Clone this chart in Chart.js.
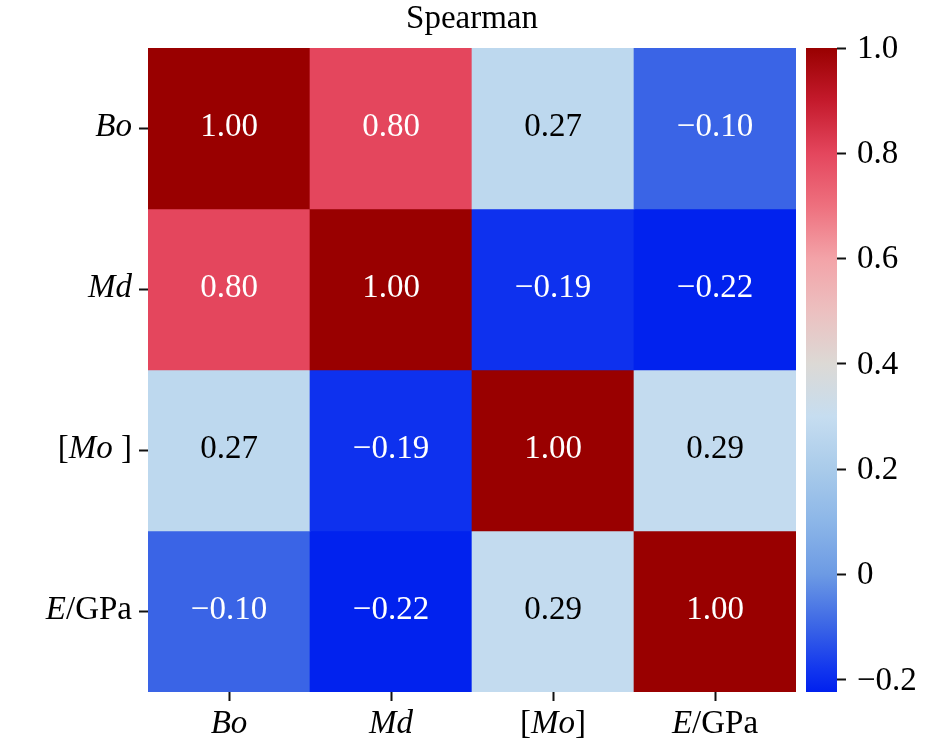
<!DOCTYPE html>
<html>
<head>
<meta charset="utf-8">
<script src="https://cdn.jsdelivr.net/npm/chart.js@4.4.1/dist/chart.umd.min.js"></script>
<style>
  html, body { margin: 0; padding: 0; background: #fff; }
  #wrap { position: relative; width: 945px; height: 743px; }
  #heatBox { position: absolute; left: 0; top: 0; width: 945px; height: 743px; }
  #cbBox { position: absolute; left: 790px; top: 0; width: 155px; height: 743px; }
</style>
</head>
<body>
<div id="wrap">
  <div id="heatBox"><canvas id="heat"></canvas></div>
  <div id="cbBox"><canvas id="cbar"></canvas></div>
</div>
<script>
/* ================= DATA ================= */
const title = "Spearman";
// *text* = italic part
const xLabels = ["*Bo*", "*Md*", "[*Mo*]", "*E*/GPa"];
const yLabels = ["*Bo*", "*Md*", "[*Mo* ]", "*E*/GPa"];

const rowBo = [1.00, 0.80, 0.27, -0.10];
const rowMd = [0.80, 1.00, -0.19, -0.22];
const rowMo = [0.27, -0.19, 1.00, 0.29];
const rowE  = [-0.10, -0.22, 0.29, 1.00];
const rows = [rowBo, rowMd, rowMo, rowE];

const cbTicks = [-0.2, 0, 0.2, 0.4, 0.6, 0.8, 1.0];
const cbMin = -0.223;
const cbMax = 1.0;

/* ================= COLOUR MAP ================= */
const cmapStops = [
  [-0.223, "#0020ee"],
  [-0.18, "#1236ee"],
  [-0.10, "#3a64e6"],
  [0.0, "#6c9ae4"],
  [0.1, "#8cb6e8"],
  [0.2, "#a9cbea"],
  [0.3, "#c6ddf0"],
  [0.4, "#dcd9d5"],
  [0.5, "#ecc0c0"],
  [0.6, "#f3a3a8"],
  [0.7, "#ee707e"],
  [0.8, "#e4465d"],
  [0.9, "#c41a2c"],
  [1.0, "#990000"]
];

const FONT = "'Liberation Serif', 'DejaVu Serif', serif";
const SIZE = 33;

function hexRgb(h) {
  return [1, 3, 5].map(k => parseInt(h.slice(k, k + 2), 16));
}

function cmapRgb(v) {
  if (v <= cmapStops[0][0]) return hexRgb(cmapStops[0][1]);
  for (let k = 1; k < cmapStops.length; k++) {
    const [v1, c1] = cmapStops[k];
    if (v <= v1) {
      const [v0, c0] = cmapStops[k - 1];
      const t = (v - v0) / (v1 - v0);
      const a = hexRgb(c0), b = hexRgb(c1);
      return a.map((x, n) => Math.round(x + (b[n] - x) * t));
    }
  }
  return hexRgb(cmapStops[cmapStops.length - 1][1]);
}

function cmap(v) {
  const c = cmapRgb(v);
  return `rgb(${c[0]},${c[1]},${c[2]})`;
}

function isDark(v) {
  const lin = cmapRgb(v).map(x => {
    x /= 255;
    return x <= 0.03928 ? x / 12.92 : Math.pow((x + 0.055) / 1.055, 2.4);
  });
  return 0.2126 * lin[0] + 0.7152 * lin[1] + 0.0722 * lin[2] < 0.408;
}

function fmt(v, d) {
  return (v < 0 ? "\u2212" : "") + Math.abs(v).toFixed(d);
}

// draw "a*b*c" with italic parts
function drawRich(ctx, markup, x, y, align) {
  const parts = markup.split("*").map((t, k) => ({ t, it: k % 2 === 1 })).filter(p => p.t);
  const font = it => (it ? "italic " : "") + SIZE + "px " + FONT;
  let w = 0;
  parts.forEach(p => { ctx.font = font(p.it); p.w = ctx.measureText(p.t).width; w += p.w; });
  let cx = align === "right" ? x - w : align === "center" ? x - w / 2 : x;
  ctx.textAlign = "left";
  parts.forEach(p => { ctx.font = font(p.it); ctx.fillText(p.t, cx, y); cx += p.w; });
}

/* ================= HEATMAP ================= */
const heatText = {
  id: "heatText",
  afterDatasetsDraw(chart) {
    const ctx = chart.ctx;
    ctx.save();
    ctx.font = SIZE + "px " + FONT;
    ctx.textAlign = "center";
    ctx.textBaseline = "alphabetic";
    chart.data.datasets.forEach((ds, i) => {
      chart.getDatasetMeta(i).data.forEach((bar, j) => {
        const v = ds.values[j];
        const p = bar.getProps(["x", "y", "base"], true);
        const cy = (p.y + p.base) / 2;
        ctx.fillStyle = isDark(v) ? "#ffffff" : "#000000";
        ctx.fillText(fmt(v, 2), p.x, cy + 7);
      });
    });
    ctx.restore();
  },
  afterDraw(chart) {
    const ctx = chart.ctx;
    const a = chart.chartArea;
    const xs = chart.scales.x, ys = chart.scales.y;
    ctx.save();
    ctx.fillStyle = "#000";
    ctx.textBaseline = "alphabetic";

    // title
    ctx.font = SIZE + "px " + FONT;
    ctx.textAlign = "center";
    ctx.fillText(title, (a.left + a.right) / 2, a.top - 20);

    // x tick labels
    xLabels.forEach((lab, i) => {
      drawRich(ctx, lab, xs.getPixelForTick(i), a.bottom + 41, "center");
    });
    // y tick labels
    yLabels.forEach((lab, i) => {
      drawRich(ctx, lab, a.left - 16, ys.getPixelForTick(i) + 7, "right");
    });
    ctx.restore();
  }
};

const tickGrid = {
  display: true,
  drawOnChartArea: false,
  drawTicks: true,
  tickLength: 9,
  tickWidth: 2,
  tickColor: "#111"
};

new Chart(document.getElementById("heat").getContext("2d"), {
  type: "bar",
  data: {
    labels: xLabels,
    datasets: rows.map((row, i) => ({
      label: yLabels[i],
      data: row.map(() => [i, i + 1]),
      values: row,
      backgroundColor: row.map(v => cmap(v)),
      borderWidth: 0,
      barPercentage: 1,
      categoryPercentage: 1,
      grouped: false
    }))
  },
  options: {
    responsive: true,
    maintainAspectRatio: false,
    animation: false,
    layout: { padding: { left: 0, right: 149, top: 48, bottom: 0 } },
    plugins: {
      legend: { display: false },
      tooltip: { enabled: false },
      title: { display: false }
    },
    scales: {
      x: {
        type: "category",
        offset: true,
        grid: Object.assign({ offset: false }, tickGrid),
        border: { display: false },
        ticks: { display: false },
        afterFit: s => { s.height = 51; }
      },
      y: {
        type: "linear",
        min: 0,
        max: rows.length,
        reverse: true,
        afterBuildTicks: s => { s.ticks = rows.map((_, i) => ({ value: i + 0.5 })); },
        grid: tickGrid,
        border: { display: false },
        ticks: { display: false },
        afterFit: s => { s.width = 148; }
      }
    }
  },
  plugins: [heatText]
});

/* ================= COLOUR BAR ================= */
new Chart(document.getElementById("cbar").getContext("2d"), {
  type: "bar",
  data: {
    labels: [""],
    datasets: [{
      data: [[cbMin, cbMax]],
      backgroundColor: c => {
        const chart = c.chart;
        if (!chart.chartArea) return "#ccc";
        const y = chart.scales.y;
        const g = chart.ctx.createLinearGradient(0, y.getPixelForValue(cbMin), 0, y.getPixelForValue(cbMax));
        cmapStops.forEach(([v, col]) => {
          g.addColorStop(Math.min(1, Math.max(0, (v - cbMin) / (cbMax - cbMin))), col);
        });
        return g;
      },
      borderWidth: 0,
      barPercentage: 1,
      categoryPercentage: 1
    }]
  },
  options: {
    responsive: true,
    maintainAspectRatio: false,
    animation: false,
    layout: { padding: { left: 16, right: 0, top: 48, bottom: 51 } },
    plugins: {
      legend: { display: false },
      tooltip: { enabled: false }
    },
    scales: {
      x: { display: false },
      y: {
        position: "right",
        min: cbMin,
        max: cbMax,
        afterBuildTicks: s => { s.ticks = cbTicks.map(v => ({ value: v })); },
        ticks: {
          callback: v => (v === 0 ? "0" : fmt(v, 1)),
          font: { family: FONT, size: SIZE },
          color: "#000",
          padding: 11,
          labelOffset: 1
        },
        grid: tickGrid,
        border: { display: false },
        afterFit: s => { s.width = 108; }
      }
    }
  }
});
</script>
</body>
</html>
